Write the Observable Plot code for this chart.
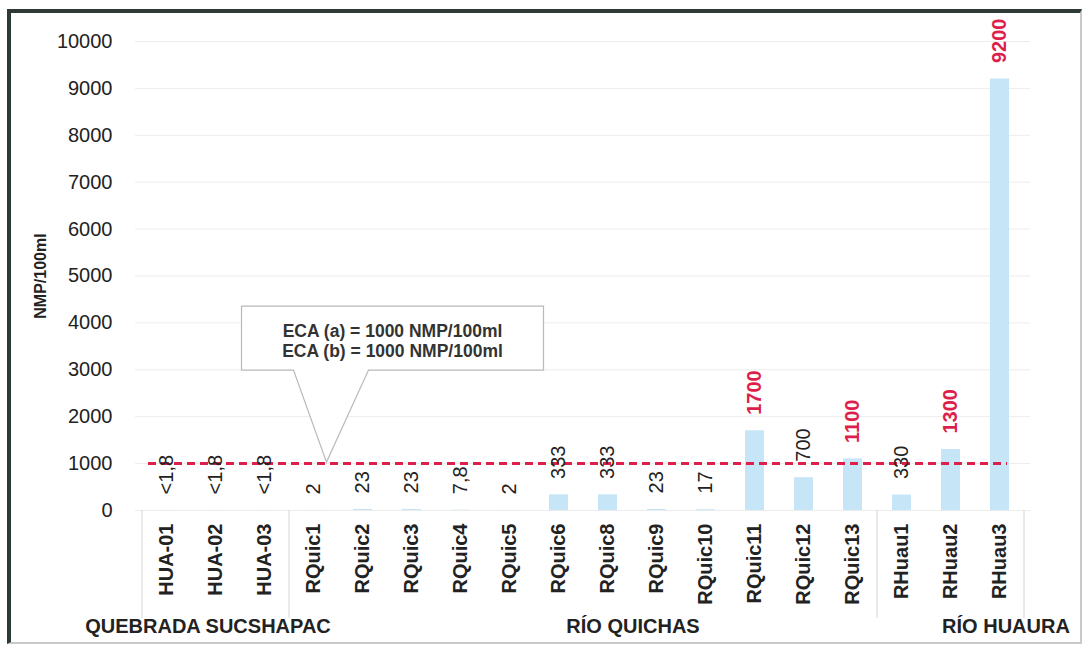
<!DOCTYPE html>
<html>
<head>
<meta charset="utf-8">
<script src="https://cdn.jsdelivr.net/npm/d3@7"></script>
<script src="https://cdn.jsdelivr.net/npm/@observablehq/plot@0.6"></script>
<style>
  html, body { margin: 0; padding: 0; background: #fff; }
  #wrap { position: relative; width: 1082px; height: 645px; overflow: hidden; }
  #frame {
    position: absolute; left: 7px; top: 9px; width: 1075px; height: 635px;
    box-sizing: border-box; pointer-events: none;
    border-top: 4px solid #2e3a35; border-left: 4px solid #2e3a35;
    border-right: 2px solid #c9c9c9; border-bottom: 2px solid #c9c9c9;
  }
</style>
</head>
<body>
<div id="wrap"><div id="frame"></div></div>
<script>
// Sampling stations, in the order they are drawn
const stations = ["HUA-01", "HUA-02", "HUA-03", "RQuic1", "RQuic2", "RQuic3", "RQuic4", "RQuic5",
  "RQuic6", "RQuic8", "RQuic9", "RQuic10", "RQuic11", "RQuic12", "RQuic13", "RHuau1", "RHuau2", "RHuau3"];
// Water body each station belongs to
const stationGroup = ["QUEBRADA SUCSHAPAC", "QUEBRADA SUCSHAPAC", "QUEBRADA SUCSHAPAC",
  "RÍO QUICHAS", "RÍO QUICHAS", "RÍO QUICHAS", "RÍO QUICHAS", "RÍO QUICHAS", "RÍO QUICHAS",
  "RÍO QUICHAS", "RÍO QUICHAS", "RÍO QUICHAS", "RÍO QUICHAS", "RÍO QUICHAS", "RÍO QUICHAS",
  "RÍO HUAURA", "RÍO HUAURA", "RÍO HUAURA"];
// Coliform counts (NMP/100ml)
const values = [1.8, 1.8, 1.8, 2, 23, 23, 7.8, 2, 333, 333, 23, 17, 1700, 700, 1100, 330, 1300, 9200];
const valueLabels = ["<1,8", "<1,8", "<1,8", "2", "23", "23", "7,8", "2", "333", "333", "23", "17",
  "1700", "700", "1100", "330", "1300", "9200"];
// Quality standard (ECA) limit
const ecaLimit = 1000;
const ecaNotes = ["ECA (a) = 1000 NMP/100ml", "ECA (b) = 1000 NMP/100ml"];
const yTicks = [0, 1000, 2000, 3000, 4000, 5000, 6000, 7000, 8000, 9000, 10000];
const yLabel = "NMP/100ml";
const groupNames = ["QUEBRADA SUCSHAPAC", "RÍO QUICHAS", "RÍO HUAURA"];
const groupLabelAt = ["HUA-02", "RQuic8", "RHuau3"];

const rows = stations.map((s, i) => ({
  station: s, value: values[i], label: valueLabels[i], over: values[i] > ecaLimit
}));

const RED = "#dc1f4b";
const INK = "#222";
const FONT = "'Liberation Sans', Arial, Helvetica, sans-serif";

// Callout box pointing at the ECA line
function ecaCallout(index, scales) {
  const x = scales.x, y = scales.y;
  const bw = x.bandwidth();
  const tx = x("RQuic1") + bw / 2 + 13;
  const ty = y(ecaLimit) - 1;
  const left = tx - 85, right = tx + 217, top = ty - 156, bottom = ty - 92;
  const g = d3.create("svg:g");
  g.append("path")
    .attr("d", `M${left},${top}H${right}V${bottom}H${tx + 42}L${tx},${ty}L${tx - 33},${bottom}H${left}Z`)
    .attr("fill", "#fff").attr("stroke", "#b9b9b9").attr("stroke-width", 1.2);
  const cx = (left + right) / 2;
  g.append("text")
    .attr("text-anchor", "middle").attr("font-family", FONT).attr("font-size", 17.5)
    .attr("font-weight", "bold").attr("fill", "#333")
    .selectAll("tspan").data(ecaNotes).join("tspan")
      .attr("x", cx).attr("y", (d, i) => top + 26 + i * 20)
      .attr("dominant-baseline", "middle")
      .text(d => d);
  return g.node();
}

// Thin dividers below the axis separating the water bodies
function groupSeparators(index, scales) {
  const x = scales.x, y = scales.y;
  const step = x.step(), bw = x.bandwidth();
  const half = (step - bw) / 2;
  const y0 = y(0);
  const pos = [];
  stations.forEach((s, i) => {
    if (i === 0 || stationGroup[i] !== stationGroup[i - 1]) pos.push(x(s) - half);
  });
  pos.push(x(stations[stations.length - 1]) + bw + half);
  const g = d3.create("svg:g");
  g.selectAll("line").data(pos).join("line")
    .attr("x1", d => d).attr("x2", d => d)
    .attr("y1", y0).attr("y2", y0 + 108)
    .attr("stroke", "#d4d4d4").attr("stroke-width", 1);
  return g.node();
}

const chart = Plot.plot({
  width: 1082,
  height: 645,
  marginLeft: 135,
  marginRight: 52,
  marginTop: 41,
  marginBottom: 135,
  style: { fontFamily: FONT, color: INK, background: "transparent" },
  x: { domain: stations, paddingInner: 0.62, paddingOuter: 0.31 },
  y: { domain: [0, 10000] },
  marks: [
    Plot.ruleY(yTicks, { stroke: "#ececec", strokeWidth: 1 }),
    Plot.barY(rows, { x: "station", y: "value", fill: "#c6e5f7" }),
    ecaCallout,
    Plot.ruleY([ecaLimit], { stroke: RED, strokeWidth: 3, strokeDasharray: "8,5", insetLeft: 13, insetRight: 23 }),
    Plot.text(rows.filter(d => !d.over), {
      x: "station", y: "value", text: "label", rotate: -90, textAnchor: "start",
      dy: -16, fill: INK, fontSize: 20
    }),
    Plot.text(rows.filter(d => d.over), {
      x: "station", y: "value", text: "label", rotate: -90, textAnchor: "start",
      dy: -16, fill: RED, fontSize: 20, fontWeight: "bold"
    }),
    Plot.axisY({ ticks: yTicks, tickFormat: d => String(d), tickSize: 0, tickPadding: 23, fontSize: 20, label: null, fill: INK }),
    Plot.axisX({ tickRotate: -90, tickSize: 0, tickPadding: 13, fontSize: 20, fontWeight: "bold", label: null, fill: INK }),
    Plot.text([yLabel], {
      frameAnchor: "left", textAnchor: "middle", dx: -95, rotate: -90,
      fontSize: "16px", fontWeight: "bold", fill: INK
    }),
    groupSeparators,
    Plot.text([0], {
      x: i => groupLabelAt[i], text: i => groupNames[i], frameAnchor: "bottom",
      dx: -8, dy: 122, fontSize: 20, fontWeight: "bold", fill: INK
    }),
    Plot.text([1], {
      x: i => groupLabelAt[i], text: i => groupNames[i], frameAnchor: "bottom",
      dx: 25, dy: 122, fontSize: 20, fontWeight: "bold", fill: INK
    }),
    Plot.text([2], {
      x: i => groupLabelAt[i], text: i => groupNames[i], frameAnchor: "bottom",
      dx: 6, dy: 122, fontSize: 20, fontWeight: "bold", fill: INK
    })
  ]
});

document.getElementById("wrap").insertBefore(chart, document.getElementById("frame"));
</script>
</body>
</html>
